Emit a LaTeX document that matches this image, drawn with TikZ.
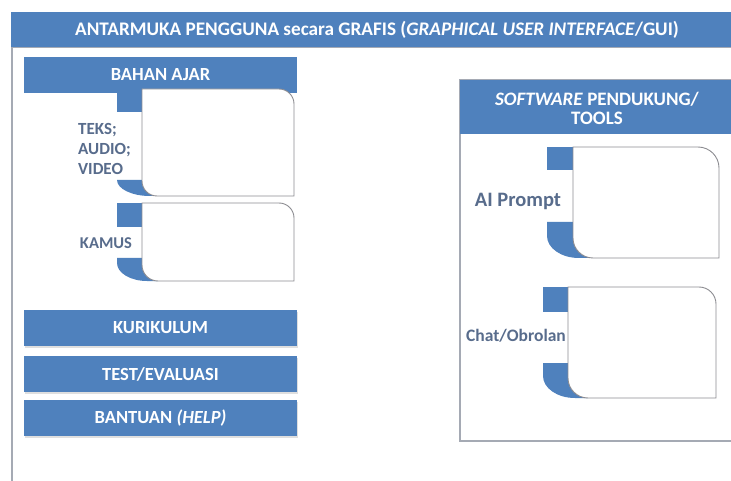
\documentclass[tikz,border=0pt]{standalone}
\usepackage{fontspec}
\setmainfont{Carlito}
\usetikzlibrary{shadows}
\definecolor{ofblue}{RGB}{79,129,189}
\definecolor{lblcol}{RGB}{88,108,140}
\definecolor{frgray}{RGB}{165,170,180}
\definecolor{bxgray}{RGB}{140,140,145}
% #1 tabL, #2 boxL, #3 boxR, #4 top, #5 bottom, #6 top tab bottom, #7 bottom tab top
\newcommand{\tabbox}[7]{%
  \fill[ofblue] (#1,-#4) rectangle (#2,-#6);
  \fill[ofblue] (#1,-#7) -- (#1,-#5+\Ry) arc[start angle=180,end angle=270,x radius=\Rx,y radius=\Ry]
     -- (#2+\rin,-#5) arc[start angle=270,end angle=180,radius=\rin] -- (#2,-#7) -- cycle;
  \draw[boxline,fill=white] (#2,-#4) -- (#3-\rtr,-#4) arc[start angle=90,end angle=0,radius=\rtr]
     -- (#3,-#5) -- (#2+\rin,-#5) arc[start angle=270,end angle=180,radius=\rin] -- cycle;
}
\begin{document}
\begin{tikzpicture}[x=1pt,y=1pt,
  boxline/.style={draw=bxgray,line width=0.9pt},
  frame/.style={draw=frgray,line width=1.3pt},
  bar/.style={fill=ofblue,text=white,font=\bfseries\fontsize{18.5}{20}\selectfont,inner sep=0pt,
     minimum width=273pt,minimum height=36pt},
  sbar/.style={bar,drop shadow={opacity=0.25,shadow xshift=1pt,shadow yshift=-1.5pt}},
  lbl/.style={text=lblcol,font=\bfseries\fontsize{17}{20}\selectfont,inner sep=0pt},
  ]
\useasboundingbox (0,0) rectangle (731,-481);
\fill[white] (0,0) rectangle (731,-481);
% outer frame
\draw[frame] (12,-47) -- (12,-490);
\draw[frame] (12,-47) -- (740,-47);
% title banner
\fill[ofblue] (11,-12) rectangle (740,-47);
\node[text=white,font=\bfseries\fontsize{19.2}{22}\selectfont,inner sep=0pt] (title) at (377,-30)
  {ANTARMUKA PENGGUNA secara GRAFIS (\textit{GRAPHICAL USER INTERFACE}/GUI)};
% left column
\node[bar] (bahan) at (160.5,-75) {BAHAN AJAR};
\def\Rx{33}\def\Ry{16}\def\rin{15}\def\rtr{15}
\tabbox{117}{142}{294}{89}{196}{112}{180}
\node[lbl,align=left,anchor=west] (teks) at (78,-149) {TEKS;\\AUDIO;\\VIDEO};
\def\Rx{30}\def\Ry{18}\def\rin{16}\def\rtr{15}
\tabbox{117}{142}{294}{203}{281}{227}{258}
\node[lbl,font=\bfseries\fontsize{16.5}{20}\selectfont] (kamus) at (106,-243) {KAMUS};
\node[sbar] (kur) at (160.5,-328) {KURIKULUM};
\node[sbar] (test) at (160.5,-374) {TEST/EVALUASI};
\node[sbar] (help) at (160.5,-418) {BANTUAN \textit{(HELP)}};
% right panel
\draw[frame,fill=white] (460,-80) rectangle (740,-441);
\fill[ofblue] (460,-80) rectangle (740,-134);
\node[text=white,font=\bfseries\fontsize{19}{19}\selectfont,inner sep=0pt,align=center] (sw) at (597,-108)
  {\textit{SOFTWARE} PENDUKUNG/\\TOOLS};
\def\Rx{32}\def\Ry{22}\def\rin{20}\def\rtr{21}
\tabbox{547}{573}{719}{147}{258}{170}{222}
\node[lbl,font=\bfseries\fontsize{20.5}{22}\selectfont] (ai) at (518,-201) {AI Prompt};
\def\Rx{32}\def\Ry{22}\def\rin{20}\def\rtr{17}
\tabbox{543}{568}{716}{287}{398}{312}{363}
\node[lbl,font=\bfseries\fontsize{17.5}{20}\selectfont] (chat) at (516,-336) {Chat/Obrolan};
\end{tikzpicture}
\end{document}
